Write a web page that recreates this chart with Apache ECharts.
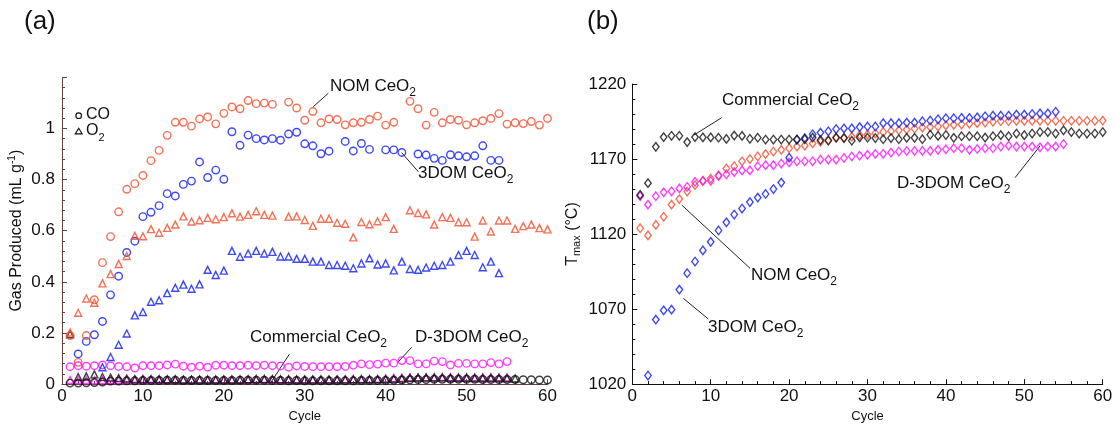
<!DOCTYPE html>
<html>
<head>
<meta charset="utf-8">
<script src="https://cdn.jsdelivr.net/npm/echarts@6/dist/echarts.min.js"></script>
<style>
  html, body { margin: 0; padding: 0; background: #fff; }
  #main { width: 1117px; height: 428px; }
</style>
</head>
<body>
<div id="main"></div>
<script>
var cycles = [1, 2, 3, 4, 5, 6, 7, 8, 9, 10, 11, 12, 13, 14, 15, 16, 17, 18, 19, 20,
    21, 22, 23, 24, 25, 26, 27, 28, 29, 30, 31, 32, 33, 34, 35, 36, 37, 38, 39, 40,
    41, 42, 43, 44, 45, 46, 47, 48, 49, 50, 51, 52, 53, 54, 55, 56, 57, 58, 59, 60];

// (a) gas produced, mL/g
var nomCO = [0.19, 0.085, 0.19, 0.33, 0.475, 0.577, 0.674, 0.762, 0.784, 0.816,
    0.874, 0.914, 0.973, 1.024, 1.024, 1.009, 1.037, 1.045, 1.018, 1.059,
    1.084, 1.077, 1.109, 1.097, 1.099, 1.094, null, 1.103, 1.080, 1.032,
    1.066, 1.022, 1.037, 1.035, 1.014, 1.022, 1.024, 1.035, 1.048, 1.013,
    1.024, null, 1.106, 1.077, 1.013, 1.063, 1.022, 1.035, 1.032, 1.014,
    1.022, 1.030, 1.039, 1.058, 1.017, 1.022, 1.019, 1.027, 1.013, 1.039];
var nomO2 = [0.202, 0.279, 0.335, 0.318, 0.394, 0.430, 0.470, 0.501, 0.580, 0.578,
    0.606, 0.592, 0.611, 0.624, 0.656, 0.636, 0.641, 0.650, 0.645, 0.653,
    0.668, 0.655, 0.662, 0.676, 0.662, 0.659, null, 0.655, 0.656, 0.642,
    0.619, 0.647, 0.647, 0.631, 0.627, 0.574, 0.634, 0.625, 0.637, 0.653,
    0.607, null, 0.680, 0.669, 0.664, 0.624, 0.653, 0.650, 0.633, 0.633,
    0.577, 0.640, 0.597, 0.640, 0.640, 0.607, 0.618, 0.624, 0.610, 0.605];
var dom3CO = [null, 0.118, 0.167, 0.193, 0.245, 0.349, 0.422, 0.515, 0.559, 0.655,
    0.672, 0.698, 0.745, 0.736, 0.781, 0.794, 0.869, 0.808, 0.837, 0.801,
    0.987, 0.934, 0.974, 0.960, 0.955, 0.960, 0.954, 0.978, 0.985, 0.940,
    0.932, 0.901, 0.911, null, 0.949, 0.912, 0.941, 0.918, null, 0.916,
    0.916, 0.906, null, 0.900, 0.896, 0.883, 0.875, 0.897, 0.893, 0.889,
    0.893, 0.932, 0.875, 0.875];
var dom3O2 = [null, null, null, null, 0.066, 0.106, 0.154, 0.198, 0.269, 0.282,
    0.322, 0.328, 0.356, 0.377, 0.389, 0.373, 0.390, 0.447, 0.427, 0.444,
    0.521, 0.498, 0.511, 0.521, 0.511, 0.517, 0.499, 0.499, 0.490, 0.490,
    0.479, 0.479, 0.466, 0.466, 0.463, 0.453, 0.472, 0.492, 0.468, 0.472,
    0.445, 0.479, 0.450, 0.447, 0.456, 0.463, 0.466, 0.479, 0.505, 0.521,
    0.505, 0.457, 0.479, 0.434];
var comCO = [0.004, 0.004, 0.005, 0.006, 0.008, 0.012, 0.012, 0.013, 0.013, 0.014,
    0.014, 0.014, 0.015, 0.015, 0.014, 0.014, 0.014, 0.014, 0.014, 0.014,
    0.014, 0.015, 0.015, 0.015, 0.015, 0.014, 0.014, 0.013, 0.014, 0.013,
    0.013, 0.013, 0.013, 0.013, 0.013, 0.013, 0.014, 0.014, 0.014, 0.014,
    0.015, 0.016, 0.017, 0.018, 0.018, 0.019, 0.019, 0.019, 0.019, 0.019,
    0.019, 0.018, 0.018, 0.018, 0.018, 0.018, 0.017, 0.017, 0.016, 0.016];
var comO2 = [0.195, 0.028, 0.030, 0.038, 0.028, 0.026, 0.024, 0.022, 0.020, 0.020,
    0.020, 0.020, 0.019, 0.019, 0.018, 0.018, 0.018, 0.018, 0.018, 0.018,
    0.018, 0.018, 0.019, 0.020, 0.020, 0.020, 0.019, 0.019, 0.018, 0.018,
    0.018, 0.018, 0.018, 0.018, 0.018, 0.019, 0.019, 0.019, 0.019, 0.020,
    0.021, 0.022, 0.025, 0.026, 0.026, 0.026, 0.026, 0.025, 0.025, 0.025,
    0.024, 0.024, 0.024, 0.024, 0.023, 0.022];
var d3CO = [0.068, 0.072, 0.070, 0.072, 0.075, 0.072, 0.069, 0.068, 0.063, 0.072,
    0.072, 0.072, 0.075, 0.078, 0.070, 0.066, 0.070, 0.066, 0.074, 0.074,
    0.072, 0.072, 0.074, 0.072, 0.074, 0.072, 0.071, 0.066, 0.071, 0.069,
    0.068, 0.068, 0.068, 0.068, 0.069, 0.074, 0.079, 0.076, 0.078, 0.082,
    0.082, 0.092, 0.092, 0.079, 0.079, 0.090, 0.088, 0.075, 0.081, 0.081,
    0.079, 0.079, 0.084, 0.079, 0.088];
var d3O2 = [0.016, 0.016, 0.016, 0.015, 0.015, 0.016, 0.016, 0.016, 0.016, 0.017,
    0.017, 0.017, 0.017, 0.018, 0.017, 0.017, 0.018, 0.018, 0.018, 0.018,
    0.018, 0.018, 0.019, 0.019, 0.019, 0.018, 0.018, 0.018, 0.018, 0.018,
    0.018, 0.018, 0.018, 0.019, 0.019, 0.019, 0.020, 0.020, 0.021, 0.022,
    0.024, 0.025, 0.026, 0.026, 0.027, 0.027, 0.028, 0.027, 0.027, 0.027,
    0.027, 0.027, 0.028, 0.027, 0.027];

// (b) Tmax, deg C
var comT = [1146.1, 1153.9, 1178.1, 1184.6, 1185.5, 1185.5, 1181.3, 1184.6, 1184.4, 1184.4,
    1184.2, 1183.4, 1185.6, 1185.4, 1183.5, 1184.2, 1183.0, 1183.0, 1183.0, 1183.0,
    1183.0, 1183.2, 1184.3, 1182.6, 1182.2, 1184.3, 1184.1, 1182.2, 1184.4, 1184.2,
    1184.0, 1183.2, 1184.0, 1183.2, 1184.1, 1184.1, 1183.2, 1186.2, 1185.4, 1186.0,
    1184.1, 1185.2, 1185.2, 1185.2, 1184.3, 1185.2, 1185.9, 1185.2, 1187.0, 1185.9,
    1187.0, 1188.0, 1188.0, 1187.0, 1189.1, 1188.0, 1187.0, 1187.0, 1187.0, 1188.0];
var nomT = [1123.9, 1119.1, 1126.1, 1131.5, 1139.6, 1143.3, 1148.3, 1152.6, 1155.4, 1157.0,
    1159.1, 1163.7, 1165.2, 1168.5, 1170.0, 1171.7, 1173.3, 1175.0, 1176.1, 1177.2,
    1178.3, 1178.9, 1180.4, 1181.5, 1182.6, 1184.1, 1183.7, 1184.8, 1185.9, 1186.3,
    1187.0, 1188.0, 1188.7, 1189.1, 1189.6, 1190.2, 1190.9, 1191.3, 1191.7, 1192.4,
    1192.8, 1193.0, 1193.5, 1193.9, 1194.3, 1194.8, 1195.2, 1195.2, 1195.4, 1195.4,
    1195.4, 1195.4, 1195.5, 1195.5, 1195.5, 1195.5, 1195.5, 1195.5, 1195.5, 1195.6];
var dom3T = [null, 1025.7, 1063.0, 1069.1, 1069.6, 1083.0, 1093.9, 1101.7, 1109.1, 1114.8,
    1122.4, 1127.8, 1133.0, 1137.0, 1141.3, 1144.3, 1146.7, 1150.0, 1154.3, 1170.9,
    1183.0, 1183.9, 1186.5, 1187.6, 1188.5, 1190.0, 1190.4, 1190.4, 1191.3, 1191.7,
    1191.7, 1193.9, 1193.9, 1193.9, 1194.3, 1194.3, 1195.2, 1195.7, 1196.5, 1197.2,
    1197.2, 1197.4, 1197.4, 1197.8, 1198.5, 1198.9, 1198.9, 1198.9, 1199.6, 1199.6,
    1200.0, 1200.4, 1200.4, 1201.5];
var d3T = [1145.2, 1139.6, 1145.2, 1147.8, 1148.5, 1150.4, 1151.5, 1154.8, 1155.4, 1155.4,
    1158.7, 1159.8, 1161.3, 1162.4, 1162.4, 1165.2, 1165.9, 1165.9, 1167.0, 1167.8,
    1168.5, 1168.5, 1168.5, 1169.6, 1169.6, 1169.6, 1170.7, 1171.7, 1172.2, 1172.8,
    1173.5, 1173.5, 1174.3, 1175.0, 1175.4, 1175.4, 1175.4, 1175.4, 1176.1, 1176.5,
    1177.2, 1177.2, 1176.1, 1176.7, 1177.2, 1177.2, 1178.3, 1178.9, 1178.3, 1178.3,
    1178.3, 1177.8, 1178.3, 1178.3, 1180.0];

var ORANGE = '#f04f2e', BLUE = '#0f1cf0', MAGENTA = '#ff10ff', BLACK = '#111';
var FONT = 'Liberation Sans';

function pairs(ys) {
    var out = [];
    ys.forEach(function (v, i) {
        if (v !== null) out.push([cycles[i], v]);
    });
    return out;
}

function marks(ys, color, symbol, size, grid) {
    return {
        type: 'scatter',
        xAxisIndex: grid,
        yAxisIndex: grid,
        symbol: symbol,
        symbolSize: size,
        data: pairs(ys),
        itemStyle: { color: 'rgba(0,0,0,0)', borderColor: color, borderWidth: 1.4 },
        emphasis: { disabled: true },
        z: 2
    };
}

function label(x, y, main, size) {
    return {
        type: 'text',
        x: x, y: y,
        style: {
            text: '{m|' + main + '}{s|2}',
            rich: {
                m: { fontSize: size || 17, fontFamily: FONT, fill: '#111', verticalAlign: 'top' },
                s: { fontSize: 12, fontFamily: FONT, fill: '#111', verticalAlign: 'top', padding: [9, 0, 0, 0] }
            }
        }
    };
}

function leader(x1, y1, x2, y2) {
    return {
        type: 'line',
        shape: { x1: x1, y1: y1, x2: x2, y2: y2 },
        style: { stroke: '#222', lineWidth: 1 }
    };
}

var chartDom = document.getElementById('main');
var myChart = echarts.init(chartDom);
var option;

var axisA = '#5e4444';

option = {
    animation: false,
    textStyle: { fontFamily: FONT },
    grid: [
        { left: 62, right: 569.5, top: 77.3, bottom: 41 },
        { left: 632.3, right: 14.3, top: 84, bottom: 39.7 }
    ],
    xAxis: [
        {
            gridIndex: 0, type: 'value', min: 0, max: 60, interval: 10,
            name: 'Cycle', nameLocation: 'middle', nameGap: 21,
            nameTextStyle: { fontSize: 13, color: '#111', fontFamily: FONT },
            axisLine: { lineStyle: { color: axisA } },
            axisTick: { inside: true, length: 5, lineStyle: { color: axisA } },
            minorTick: { show: true, splitNumber: 5, length: 3, lineStyle: { color: axisA } },
            axisLabel: { fontSize: 17, color: '#111', margin: 4, fontFamily: FONT },
            splitLine: { show: false }
        },
        {
            gridIndex: 1, type: 'value', min: 0, max: 60, interval: 10,
            name: 'Cycle', nameLocation: 'middle', nameGap: 21,
            nameTextStyle: { fontSize: 13, color: '#111', fontFamily: FONT },
            axisLine: { lineStyle: { color: '#111' } },
            axisTick: { inside: true, length: 5, lineStyle: { color: '#111' } },
            minorTick: { show: true, splitNumber: 5, length: 3, lineStyle: { color: '#111' } },
            axisLabel: { fontSize: 17, color: '#111', margin: 4, fontFamily: FONT },
            splitLine: { show: false }
        }
    ],
    yAxis: [
        {
            gridIndex: 0, type: 'value', min: 0, max: 1.2, interval: 0.2,
            name: 'Gas Produced (mL g{sup|-1})', nameLocation: 'middle', nameGap: 36,
            nameTextStyle: {
                fontSize: 16, color: '#111', fontFamily: FONT,
                rich: { sup: { fontSize: 10, fontFamily: FONT, color: '#111', padding: [0, 0, 9, 0] } }
            },
            axisLine: { show: true, lineStyle: { color: axisA } },
            axisTick: { inside: true, length: 5, lineStyle: { color: axisA } },
            minorTick: { show: true, splitNumber: 5, length: 3, lineStyle: { color: axisA } },
            axisLabel: {
                fontSize: 17, color: '#111', margin: 7, fontFamily: FONT,
                formatter: function (v) { return v > 1.1 ? '' : String(+v.toFixed(1)); }
            },
            splitLine: { show: false }
        },
        {
            gridIndex: 1, type: 'value', min: 1020, max: 1220, interval: 50,
            name: 'T{sub|max} (°C)', nameLocation: 'middle', nameGap: 50,
            nameTextStyle: {
                fontSize: 16, color: '#111', fontFamily: FONT,
                rich: { sub: { fontSize: 11, fontFamily: FONT, color: '#111', padding: [9, 0, 0, 0] } }
            },
            axisLine: { show: true, lineStyle: { color: '#111' } },
            axisTick: { inside: true, length: 5, lineStyle: { color: '#111' } },
            minorTick: { show: true, splitNumber: 5, length: 3, lineStyle: { color: '#111' } },
            axisLabel: {
                fontSize: 17, color: '#111', margin: 6, fontFamily: FONT,
                formatter: function (v) { return String(v); }
            },
            splitLine: { show: false }
        }
    ],
    graphic: [
        { type: 'text', x: 24, y: 9, style: { text: '(a)', fontSize: 26, fontFamily: FONT, fill: '#111' } },
        { type: 'text', x: 587, y: 9, style: { text: '(b)', fontSize: 26, fontFamily: FONT, fill: '#111' } },
        // legend for (a)
        { type: 'circle', shape: { cx: 78.7, cy: 115.7, r: 2.8 }, style: { fill: 'none', stroke: '#111', lineWidth: 1.2 } },
        { type: 'polygon', shape: { points: [[78.7, 128.3], [75.3, 133.8], [82.1, 133.8]] }, style: { fill: 'none', stroke: '#111', lineWidth: 1.2 } },
        { type: 'text', x: 86, y: 107, style: { text: 'CO', fontSize: 16, fontFamily: FONT, fill: '#111' } },
        {
            type: 'text', x: 86, y: 123,
            style: {
                text: '{m|O}{s|2}',
                rich: {
                    m: { fontSize: 16, fontFamily: FONT, fill: '#111', verticalAlign: 'top' },
                    s: { fontSize: 11, fontFamily: FONT, fill: '#111', verticalAlign: 'top', padding: [9, 0, 0, 0] }
                }
            }
        },
        // annotations (a)
        label(330, 78, 'NOM CeO'),
        leader(313.3, 106.7, 328.3, 93.3),
        label(418, 165, '3DOM CeO'),
        leader(401.7, 152.7, 418.3, 171.7),
        label(250, 329, 'Commercial CeO'),
        leader(270.7, 382.7, 289.3, 354.3),
        label(415, 329, 'D-3DOM CeO'),
        leader(398.3, 361.7, 411.7, 347.3),
        // annotations (b)
        label(722, 92, 'Commercial CeO'),
        leader(694, 135, 721.7, 117.7),
        label(897, 175, 'D-3DOM CeO'),
        leader(1015, 177.7, 1040, 146),
        label(751, 267, 'NOM CeO'),
        leader(681.7, 205, 750, 268.3),
        label(708, 318.5, '3DOM CeO'),
        leader(683.3, 298.3, 708.3, 319)
    ],
    series: [
        marks(d3O2, MAGENTA, 'triangle', 7, 0),
        marks(comCO, BLACK, 'circle', 7.5, 0),
        marks(comO2, BLACK, 'triangle', 7, 0),
        marks(d3CO, MAGENTA, 'circle', 7.5, 0),
        marks(dom3O2, BLUE, 'triangle', 7, 0),
        marks(dom3CO, BLUE, 'circle', 7.5, 0),
        marks(nomO2, ORANGE, 'triangle', 7, 0),
        marks(nomCO, ORANGE, 'circle', 7.5, 0),
        marks(nomT, ORANGE, 'diamond', [6.5, 8.5], 1),
        marks(d3T, MAGENTA, 'diamond', [6.5, 8.5], 1),
        marks(dom3T, BLUE, 'diamond', [6.5, 8.5], 1),
        marks(comT, BLACK, 'diamond', [6.5, 8.5], 1)
    ]
};

option && myChart.setOption(option);
</script>
</body>
</html>
